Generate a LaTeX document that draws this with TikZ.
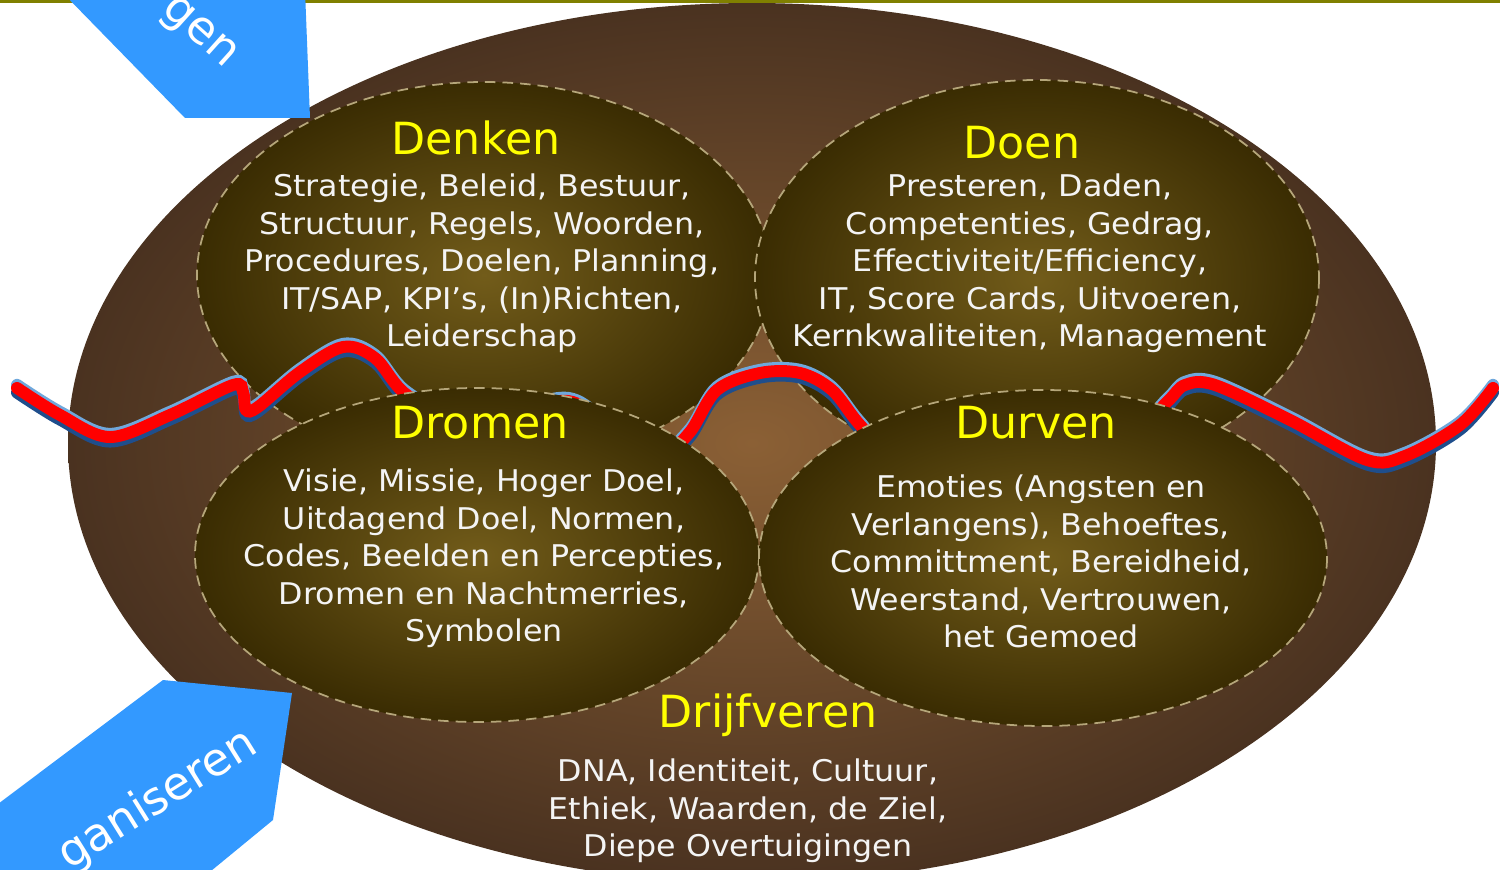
\documentclass[tikz,border=0pt]{standalone}
\usepackage{fontspec}
\setmainfont{DejaVu Sans}
\newfontfamily\lijstfont[FakeStretch=1.06]{DejaVu Sans}
\usetikzlibrary{calc}
\definecolor{earth}{HTML}{4A3220}
\definecolor{earthlight}{HTML}{8B6035}
\definecolor{moss}{HTML}{3A2C02}
\definecolor{mosslight}{HTML}{725C1A}
\definecolor{rim}{HTML}{B5A67A}
\definecolor{sky}{HTML}{3399FF}
\definecolor{olijf}{HTML}{808000}
\definecolor{wire}{HTML}{FF0000}
\definecolor{wiredark}{HTML}{1F4E8C}
\definecolor{wirelight}{HTML}{6FA8DC}
\definecolor{kopgeel}{HTML}{FFFF00}
\definecolor{wit}{HTML}{F4F4F4}

\tikzset{
	kern/.style={draw=rim, densely dashed, line width=0.5pt, inner color=mosslight, outer color=moss},
	kop/.style={text=kopgeel, inner sep=0pt, font=\fontsize{12.6}{15}\selectfont},
	tekst/.style={text=wit, inner sep=0pt, anchor=north, align=center, font=\lijstfont\fontsize{8.5}{10.7}\selectfont},
	pijltekst/.style={text=white, inner sep=0pt, font=\fontsize{13}{15}\selectfont},
}

\begin{document}
\begin{tikzpicture}[x=0.01cm, y=-0.01cm]
			%%%%% START %%%%%
			\useasboundingbox (0, 0) rectangle (1500, 870);
			\clip (0, 0) rectangle (1500, 870);
			
			% grote ellips
			\shade[inner color=earthlight, outer color=earth] (752, 443) ellipse (684 and 440);
			\fill[olijf] (0, 0) rectangle (1500, 3.5);
			
			% bovenste twee
			\shadedraw[kern] (484, 275) ellipse (287 and 193);
			\shadedraw[kern] (1037, 278) ellipse (282 and 198);
			
			% rode lijn
			\foreach \kleur/\dy in {wiredark/-1.3pt, wirelight/0.9pt, wire/0pt}
			{
				\draw[\kleur, line width=3.4pt, line cap=round, yshift=\dy] plot[smooth, tension=0.55] coordinates {
					(17, 388) (60, 415) (110, 437) (170, 415) (233, 385) (243, 392) (246, 410) (258, 407)
					(300, 372) (343, 347) (375, 358) (407, 395) (470, 425) (568, 401) (625, 445) (662, 455)
					(690, 432) (717, 390) (760, 373) (800, 373) (832, 390) (860, 425) (905, 470) (1000, 482)
					(1120, 445) (1167, 402) (1185, 385) (1215, 385) (1290, 420) (1367, 460) (1405, 456)
					(1460, 425) (1493, 388)};
			}
			
			% onderste twee
			\shadedraw[kern] (477, 555) ellipse (282 and 167);
			\shadedraw[kern] (1043, 558) ellipse (284 and 168);
			
			% teksten
			\node[kop] (denken) at (476, 138) {Denken};
			\node[tekst] (denkenlijst) at (482, 173) {Strategie, Beleid, Bestuur,\\Structuur, Regels, Woorden,\\Procedures, Doelen, Planning,\\IT/SAP, KPI’s, (In)Richten,\\Leiderschap};
			
			\node[kop] (doen) at (1022, 143) {Doen};
			\node[tekst] (doenlijst) at (1030, 173) {Presteren, Daden,\\Competenties, Gedrag,\\Effectiviteit/Efficiency,\\IT, Score Cards, Uitvoeren,\\Kernkwaliteiten, Management};
			
			\node[kop] (dromen) at (480, 423) {Dromen};
			\node[tekst] (dromenlijst) at (484, 468) {Visie, Missie, Hoger Doel,\\Uitdagend Doel, Normen,\\Codes, Beelden en Percepties,\\Dromen en Nachtmerries,\\Symbolen};
			
			\node[kop] (durven) at (1036, 423) {Durven};
			\node[tekst] (durvenlijst) at (1041, 474) {Emoties (Angsten en\\Verlangens), Behoeftes,\\Committment, Bereidheid,\\Weerstand, Vertrouwen,\\het Gemoed};
			
			\node[kop] (drijfveren) at (768, 715) {Drijfveren};
			\node[tekst] (drijfverenlijst) at (748, 758) {DNA, Identiteit, Cultuur,\\Ethiek, Waarden, de Ziel,\\Diepe Overtuigingen};
			
			% blauwe pijlen
			\fill[sky] (60, -10) -- (185, 118) -- (310, 118) -- (305, -10) -- cycle;
			\node[pijltekst, rotate=-42] (boven) at (198, 34) {gen};
			
			\fill[sky] (-10, 810) -- (163, 680) -- (292, 693) -- (273, 820) -- (200, 880) -- (-10, 880) -- cycle;
			\node[pijltekst, rotate=32] (onder) at (158, 800) {ganiseren};
			
			%%%%% END %%%%%
\end{tikzpicture}
\end{document}
